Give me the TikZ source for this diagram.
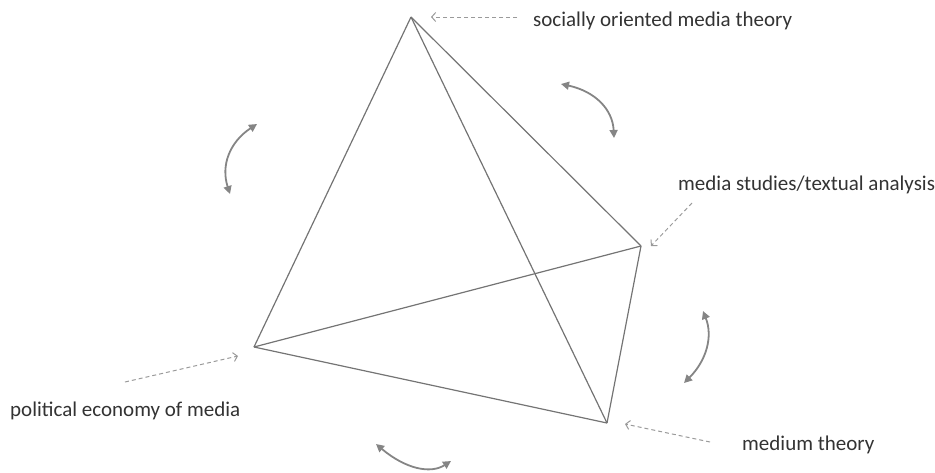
\documentclass[tikz,border=0pt]{standalone}
\usepackage{fontspec}
\setmainfont{Carlito}
\usetikzlibrary{arrows.meta}
\definecolor{edgecol}{HTML}{747474}
\definecolor{dashcol}{HTML}{9A9A9A}
\definecolor{curvcol}{HTML}{858585}
\definecolor{txtcol}{HTML}{333333}
\tikzset{
  edge/.style={draw=edgecol, line width=1.2pt},
  pointer/.style={draw=dashcol, line width=1pt, dash pattern=on 4pt off 3pt, -{Straight Barb[length=4pt,width=9pt]}},
  swing/.style={draw=curvcol, line width=1.8pt, {Triangle[length=8pt,width=8pt]}-{Triangle[length=8pt,width=8pt]}},
  lbl/.style={inner sep=0pt, anchor=base west, text=txtcol, font=\fontsize{21}{25}\selectfont}
}
\begin{document}
\begin{tikzpicture}[x=1pt,y=-1pt]
\useasboundingbox (0,0) rectangle (935,472);
% vertices
\coordinate (T) at (411,17);
\coordinate (R) at (641,246);
\coordinate (L) at (254,347);
\coordinate (B) at (607,423);
% tetrahedron edges
\draw[edge] (T) -- (L);
\draw[edge] (T) -- (R);
\draw[edge] (T) -- (B);
\draw[edge] (L) -- (R);
\draw[edge] (L) -- (B);
\draw[edge] (R) -- (B);
% labels
\node[lbl] (soc) at (533,26) {socially oriented media theory};
\node[lbl] (med) at (678,190) {media studies/textual analysis};
\node[lbl] (pol) at (10,416) {political economy of media};
\node[lbl] (mth) at (742,450) {medium theory};
% dashed pointers
\coordinate (s1) at (517,17);  \coordinate (s2) at (431,17);
\coordinate (m1) at (692,203); \coordinate (m2) at (651,246);
\coordinate (p1) at (125,382); \coordinate (p2) at (238,356);
\coordinate (t1) at (710,442); \coordinate (t2) at (625,424);
\draw[pointer] (s1) -- (s2);
\draw[pointer] (m1) -- (m2);
\draw[pointer] (p1) -- (p2);
\draw[pointer] (t1) -- (t2);
% curved double arrows
\coordinate (a1) at (230,194); \coordinate (a2) at (257,124);
\coordinate (b1) at (561,84);  \coordinate (b2) at (614,138);
\coordinate (c1) at (703,311); \coordinate (c2) at (684,383);
\coordinate (d1) at (376,444); \coordinate (d2) at (451,461);
\draw[swing] (a1) .. controls (220.7,165.3) and (229.7,142) .. (a2);
\draw[swing] (b1) .. controls (595,91.3) and (612.7,109.3) .. (b2);
\draw[swing] (c1) .. controls (713,336.3) and (706.7,360.3) .. (c2);
\draw[swing] (d1) .. controls (405.3,468.7) and (430.3,474.3) .. (d2);
\end{tikzpicture}
\end{document}
